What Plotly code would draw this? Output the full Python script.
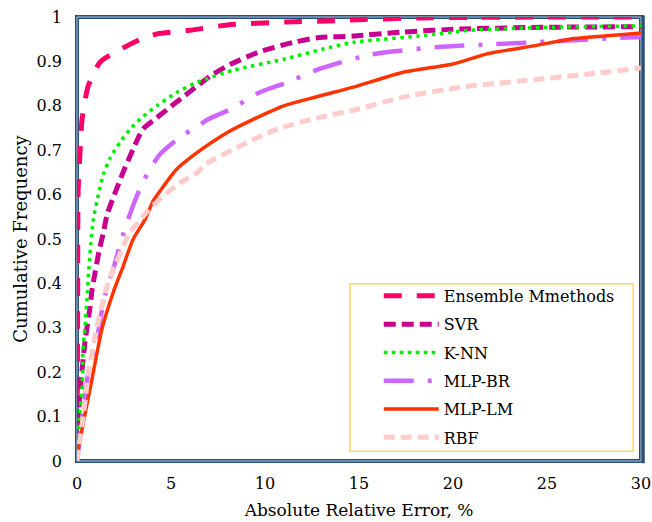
import plotly.graph_objects as go

# Cumulative frequency of absolute relative error (%) for each model
ens_x = [0, 0.03, 0.06, 0.16, 0.27, 0.6, 1.22, 2.0, 2.66, 3.4, 4.26, 6.0, 8.0, 11.2, 13.3, 15.0, 18.2, 21.0, 25.0, 30.0]
ens_y = [0, 0.3, 0.61, 0.695, 0.77, 0.845, 0.898, 0.92, 0.935, 0.95, 0.962, 0.97, 0.982, 0.989, 0.991, 0.994, 0.998, 0.999, 1.0, 1.0]

svr_x = [0, 0.06, 0.21, 0.43, 0.69, 0.8, 0.96, 1.17, 1.4, 1.6, 1.92, 2.45, 2.98, 3.5, 4.15, 4.95, 5.65, 6.4, 7.2, 8.0, 9.6, 11.5, 12.9, 14.7, 17.3, 20.4, 25.3, 30]
svr_y = [0, 0.1, 0.18, 0.27, 0.345, 0.386, 0.424, 0.472, 0.514, 0.555, 0.592, 0.65, 0.702, 0.747, 0.77, 0.797, 0.82, 0.845, 0.87, 0.89, 0.92, 0.943, 0.954, 0.957, 0.966, 0.973, 0.977, 0.978]

knn_x = [0, 0.04, 0.11, 0.27, 0.32, 0.42, 0.53, 0.64, 0.74, 0.87, 1.06, 1.4, 1.76, 2.29, 2.82, 3.35, 4.25, 5.3, 6.4, 8.3, 11.0, 13.1, 14.7, 18.2, 20.9, 25.3, 30]
knn_y = [0, 0.03, 0.093, 0.16, 0.25, 0.30, 0.363, 0.438, 0.492, 0.544, 0.585, 0.645, 0.682, 0.718, 0.747, 0.77, 0.80, 0.83, 0.853, 0.88, 0.905, 0.928, 0.943, 0.957, 0.97, 0.977, 0.98]

br_x = [0, 0.3, 0.6, 1.12, 1.33, 1.6, 1.92, 2.45, 2.98, 3.5, 4.4, 5.6, 6.4, 6.9, 8.3, 9.7, 11.2, 12.9, 15.7, 19.1, 22.3, 25.7, 29.2, 30]
br_y = [0, 0.1, 0.2, 0.289, 0.34, 0.39, 0.431, 0.51, 0.575, 0.628, 0.69, 0.733, 0.753, 0.768, 0.795, 0.83, 0.853, 0.883, 0.916, 0.932, 0.939, 0.946, 0.954, 0.955]

lm_x = [0.02, 0.4, 0.8, 1.32, 1.92, 2.45, 2.98, 3.62, 4.04, 4.4, 5.3, 6.4, 8.0, 9.4, 11.0, 12.9, 14.7, 17.3, 20.0, 21.8, 24.3, 26.2, 28.9, 30]
lm_y = [0.018, 0.1, 0.185, 0.296, 0.379, 0.438, 0.499, 0.544, 0.585, 0.607, 0.657, 0.695, 0.74, 0.77, 0.80, 0.822, 0.842, 0.875, 0.894, 0.917, 0.935, 0.95, 0.96, 0.964]

rbf_x = [0, 0.1, 0.33, 0.62, 1.05, 1.65, 2.0, 2.8, 3.25, 3.76, 4.57, 5.5, 6.4, 6.9, 8.7, 10.6, 12.9, 14.7, 17.3, 20.4, 23.6, 27.1, 30]
rbf_y = [0, 0.03, 0.1, 0.2, 0.3, 0.4, 0.438, 0.514, 0.537, 0.563, 0.596, 0.627, 0.65, 0.67, 0.71, 0.747, 0.774, 0.79, 0.819, 0.842, 0.856, 0.871, 0.885]

x_ticks = [0, 5, 10, 15, 20, 25, 30]
y_ticks = [0, 0.1, 0.2, 0.3, 0.4, 0.5, 0.6, 0.7, 0.8, 0.9, 1]

series = [
    ("Ensemble Mmethods", ens_x, ens_y, "#FF0066", 5, "18px,15px"),
    ("SVR", svr_x, svr_y, "#C8008F", 5, "12px,6px"),
    ("K-NN", knn_x, knn_y, "#00EE00", 3.5, "3.5px,4.5px"),
    ("MLP-BR", br_x, br_y, "#CC66FF", 4.5, "30px,14px,4px,14px"),
    ("MLP-LM", lm_x, lm_y, "#FF3300", 3.5, "solid"),
    ("RBF", rbf_x, rbf_y, "#FFCCCC", 5, "11px,6px"),
]

fig = go.Figure()
for i, (name, xs, ys, color, width, dash) in enumerate(series):
    fig.add_trace(go.Scatter(
        x=xs, y=ys, mode="lines", name=name, legendgroup=str(i),
        line=dict(color=color, width=width, dash=dash, shape="spline", smoothing=0.6),
    ))

serif = "DejaVu Serif"
frame = "#2A4F76"

fig.update_layout(
    width=652, height=522,
    margin=dict(l=77, r=11, t=17, b=61, autoexpand=False),
    paper_bgcolor="white", plot_bgcolor="white",
    font=dict(family=serif, size=16, color="black"),
    showlegend=True,
    legend=dict(
        x=0.535, y=0.41, xanchor="left", yanchor="top",
        bgcolor="rgba(0,0,0,0)", borderwidth=0,
        font=dict(family=serif, size=16, color="black"),
        itemwidth=55, tracegroupgap=4.5,
    ),
    xaxis=dict(
        range=[0, 30], tickvals=x_ticks, ticktext=[str(v) for v in x_ticks],
        showgrid=False, zeroline=False, showline=False, ticks="",
        ticklabelstandoff=11, automargin=False,
        title=dict(text="Absolute Relative Error, %", font=dict(family=serif, size=17), standoff=12),
    ),
    yaxis=dict(
        range=[0, 1], tickvals=y_ticks, ticktext=[("%g" % v) for v in y_ticks],
        showgrid=False, zeroline=False, showline=False, ticks="",
        ticklabelstandoff=14, automargin=False,
        title=dict(text="Cumulative Frequency", font=dict(family=serif, size=18), standoff=4),
    ),
    shapes=[
        # double-line plot frame
        dict(type="rect", xref="paper", yref="paper", x0=0, x1=1, y0=0, y1=1,
             line=dict(color=frame, width=4), layer="below"),
        dict(type="rect", xref="paper", yref="paper", x0=0, x1=1, y0=0, y1=1,
             line=dict(color="#B4C6D8", width=1), layer="below"),
        dict(type="line", xref="paper", yref="paper", x0=1.004, x1=1.004, y0=-0.005, y1=1.004,
             line=dict(color=frame, width=3), layer="below"),
        # legend box
        dict(type="rect", xref="paper", yref="paper", x0=0.484, x1=0.986, y0=0.022, y1=0.399,
             line=dict(color="#FFD966", width=1.5), fillcolor="white", layer="above"),
    ],
)

fig.write_html("out.html")
